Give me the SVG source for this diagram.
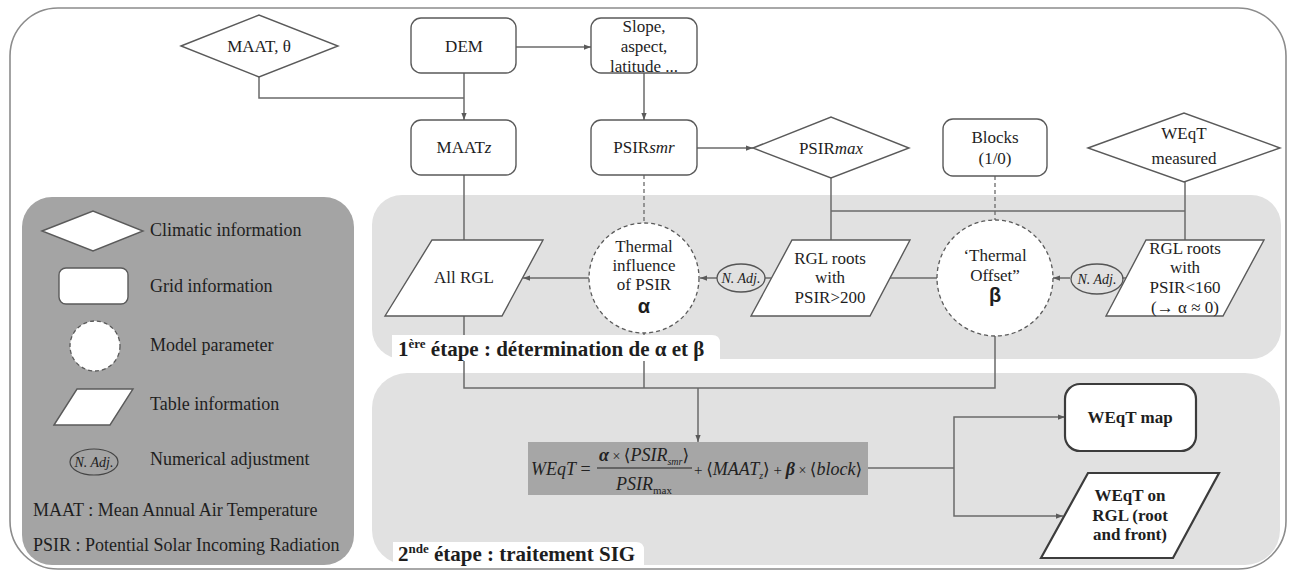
<svg xmlns="http://www.w3.org/2000/svg" width="1292" height="574" viewBox="0 0 1292 574">
<style>
text{font-family:"Liberation Serif","DejaVu Serif",serif;fill:#1e1e1e;}
.t{font-size:17px;text-anchor:middle;}
.lg{font-size:18px;}
.i{font-style:italic;}
.b{font-weight:bold;}
.na{font-size:14px;font-style:italic;text-anchor:middle;}
.gk{font-family:"Liberation Sans","DejaVu Sans",sans-serif;font-weight:bold;font-size:20px;text-anchor:middle;}
.node{fill:#fff;stroke:#5a5a5a;stroke-width:1.4;}
.thick{fill:#fff;stroke:#3c3c3c;stroke-width:2.2;}
.param{fill:#fff;stroke:#5a5a5a;stroke-width:1.3;stroke-dasharray:4 3;}
.ln{fill:none;stroke:#6a6a6a;stroke-width:1.5;}
.dash{fill:none;stroke:#6a6a6a;stroke-width:1.3;stroke-dasharray:4 3;}
.arr{marker-end:url(#ah);}
.f{font-size:18px;font-style:italic;fill:#222;}
.up{font-style:normal;}
.br{font-family:"DejaVu Sans",sans-serif;font-style:normal;font-weight:normal;font-size:17px;}
.stage{font-size:21px;font-weight:bold;}
</style>
<defs>
<marker id="ah" viewBox="0 0 8 6" refX="8" refY="3" markerWidth="7" markerHeight="6" markerUnits="userSpaceOnUse" orient="auto">
<path d="M0,0 L8,3 L0,6 z" fill="#5a5a5a"/>
</marker>
</defs>

<!-- outer frame -->
<rect x="10" y="8" width="1276" height="561" rx="48" ry="48" fill="#fff" stroke="#8c8c8c" stroke-width="1.6"/>

<!-- stage panels -->
<rect id="panel1" x="372" y="195" width="909" height="164" rx="30" ry="30" fill="#e1e1e1"/>
<rect id="panel2" x="372" y="373" width="908" height="192" rx="35" ry="35" fill="#e1e1e1"/>

<!-- legend -->
<g id="legend">
<rect x="22" y="197" width="332" height="368" rx="30" ry="30" fill="#a4a4a4"/>
<polygon class="node" points="42,231 93,211 143,231 93,251"/>
<text class="lg" x="150" y="236">Climatic information</text>
<rect class="node" x="59" y="268" width="69" height="36" rx="7"/>
<text class="lg" x="150" y="292">Grid information</text>
<circle class="param" cx="95" cy="346" r="25"/>
<text class="lg" x="150" y="351">Model parameter</text>
<polygon class="node" points="54,425 77,389 133,389 110,425"/>
<text class="lg" x="150" y="410">Table information</text>
<ellipse cx="94" cy="462" rx="24" ry="13" fill="none" stroke="#444" stroke-width="1.2"/>
<text class="na" x="94" y="467">N. Adj.</text>
<text class="lg" x="150" y="465">Numerical adjustment</text>
<text class="lg" x="33" y="516">MAAT : Mean Annual Air Temperature</text>
<text class="lg" x="33" y="551">PSIR : Potential Solar Incoming Radiation</text>
</g>

<!-- connectors -->
<g id="connectors">
<path class="ln" d="M259,77 V98 H464"/>
<path class="ln arr" d="M464,73 V120"/>
<path class="ln arr" d="M516,47 H591"/>
<path class="ln arr" d="M644,73 V120"/>
<path class="ln arr" d="M697,148 H753"/>
<path class="ln" d="M464,175 V240"/>
<path class="dash" d="M644,175 V223"/>
<path class="ln" d="M831,178 V240"/>
<path class="ln" d="M1185,182 V240"/>
<path class="ln" d="M831,211 H1185"/>
<path class="dash" d="M995,176 V220"/>
<path class="ln arr" d="M589,278 H523"/>
<path class="ln" d="M771,278 H765"/>
<path class="ln arr" d="M717,278 H700"/>
<path class="ln" d="M890,278 H937"/>
<path class="ln" d="M1126,278 H1122"/>
<path class="ln arr" d="M1070,278 H1053"/>
<path class="ln" d="M464,316 V388 H995 V336"/>
<path class="ln" d="M644,333 V388"/>
<path class="ln arr" d="M698,388 V442"/>
<path class="ln" d="M868,468 H954"/>
<path class="ln arr" d="M954,468 V417 H1065"/>
<path class="ln arr" d="M954,468 V516 H1063"/>
</g>

<!-- stage labels -->
<g id="stage1-label">
<path d="M392,361 V335 H712 Q720,335 720,343 V361 z" fill="#fff"/>
<text class="stage" x="398" y="356">1<tspan font-size="13" dy="-8">ère</tspan><tspan dy="8"> étape : détermination de α et β</tspan></text>
</g>
<g id="stage2-label">
<path d="M393,566 V542 H636 Q644,542 644,550 V566 z" fill="#fff"/>
<text class="stage" x="398" y="561">2<tspan font-size="13" dy="-8">nde</tspan><tspan dy="8"> étape : traitement SIG</tspan></text>
</g>

<!-- nodes -->
<g id="maat-theta">
<polygon class="node" points="181,46 259,15 338,46 259,77"/>
<text class="t" x="259" y="52">MAAT, θ</text>
</g>
<g id="dem">
<rect class="node" x="411" y="18" width="105" height="55" rx="10"/>
<text class="t" x="464" y="52">DEM</text>
</g>
<g id="slope">
<rect class="node" x="591" y="18" width="106" height="55" rx="10"/>
<text class="t" x="644" y="32">Slope,</text>
<text class="t" x="644" y="52">aspect,</text>
<text class="t" x="644" y="72">latitude ...</text>
</g>
<g id="maatz">
<rect class="node" x="411" y="120" width="105" height="55" rx="10"/>
<text class="t" x="464" y="153">MAAT<tspan class="i">z</tspan></text>
</g>
<g id="psirsmr">
<rect class="node" x="591" y="120" width="106" height="55" rx="10"/>
<text class="t" x="644" y="153">PSIR<tspan class="i">smr</tspan></text>
</g>
<g id="psirmax">
<polygon class="node" points="753,148 831,117 909,148 831,178"/>
<text class="t" x="831" y="154">PSIR<tspan class="i">max</tspan></text>
</g>
<g id="blocks">
<rect class="node" x="943" y="119" width="104" height="57" rx="10"/>
<text class="t" x="995" y="143">Blocks</text>
<text class="t" x="995" y="164">(1/0)</text>
</g>
<g id="weqt-measured">
<polygon class="node" points="1088,148 1184,113 1280,148 1184,182"/>
<text class="t" x="1184" y="139">WEqT</text>
<text class="t" x="1184" y="164">measured</text>
</g>
<g id="all-rgl">
<polygon class="node" points="385,316 432,240 543,240 502,316"/>
<text class="t" x="464" y="283">All RGL</text>
</g>
<g id="alpha">
<circle class="param" cx="644" cy="278" r="55"/>
<text class="t" x="644" y="252">Thermal</text>
<text class="t" x="644" y="271">influence</text>
<text class="t" x="644" y="290">of PSIR</text>
<text class="gk" x="644" y="313">α</text>
</g>
<g id="nadj1">
<ellipse cx="741" cy="278" rx="24" ry="14" fill="none" stroke="#555" stroke-width="1.3"/>
<text class="na" x="741" y="283">N. Adj.</text>
</g>
<g id="rgl200">
<polygon class="node" points="751,316 792,240 910,240 870,316"/>
<text class="t" x="830" y="264">RGL roots</text>
<text class="t" x="830" y="283">with</text>
<text class="t" x="830" y="303">PSIR&gt;200</text>
</g>
<g id="beta">
<circle class="param" cx="995" cy="278" r="58"/>
<text class="t" x="995" y="261">‘Thermal</text>
<text class="t" x="995" y="281">Offset”</text>
<text class="gk" x="995" y="302">β</text>
</g>
<g id="nadj2">
<ellipse cx="1097" cy="279" rx="26" ry="15" fill="none" stroke="#555" stroke-width="1.3"/>
<text class="na" x="1097" y="284">N. Adj.</text>
</g>
<g id="rgl160">
<polygon class="node" points="1106,316 1146,240 1264,240 1223,316"/>
<text class="t" x="1185" y="254">RGL roots</text>
<text class="t" x="1185" y="273">with</text>
<text class="t" x="1185" y="293">PSIR&lt;160</text>
<text class="t" x="1185" y="313">(→ α ≈ 0)</text>
</g>
<g id="formula">
<rect x="528" y="442" width="340" height="53" fill="#a6a6a6"/>
<text class="f" x="531" y="475">WEqT<tspan class="up"> =</tspan></text>
<text class="f" x="644" y="461" text-anchor="middle"><tspan font-weight="bold">α</tspan><tspan class="up" font-size="14"> × </tspan><tspan class="br">⟨</tspan>PSIR<tspan font-size="10" dy="4">smr</tspan><tspan class="br" dy="-4">⟩</tspan></text>
<line x1="597" y1="468" x2="692" y2="468" stroke="#222" stroke-width="1"/>
<text class="f" x="644" y="490" text-anchor="middle">PSIR<tspan class="up" font-size="11" dy="4">max</tspan></text>
<text class="f" x="694" y="475" font-size="19"><tspan class="up" font-size="15">+ </tspan><tspan class="br">⟨</tspan>MAAT<tspan font-size="10" dy="4">z</tspan><tspan class="br" dy="-4">⟩</tspan><tspan class="up" font-size="15"> + </tspan><tspan font-weight="bold">β</tspan><tspan class="up" font-size="14"> × </tspan><tspan class="br">⟨</tspan>block<tspan class="br">⟩</tspan></text>
</g>
<g id="weqt-map">
<rect class="thick" x="1065" y="384" width="131" height="67" rx="15"/>
<text class="t b" x="1130" y="423">WEqT map</text>
</g>
<g id="weqt-rgl">
<polygon class="thick" points="1041,558 1088,473 1219,473 1173,558"/>
<text class="t b" x="1130" y="501">WEqT on</text>
<text class="t b" x="1130" y="521">RGL (root</text>
<text class="t b" x="1130" y="540">and front)</text>
</g>
</svg>
